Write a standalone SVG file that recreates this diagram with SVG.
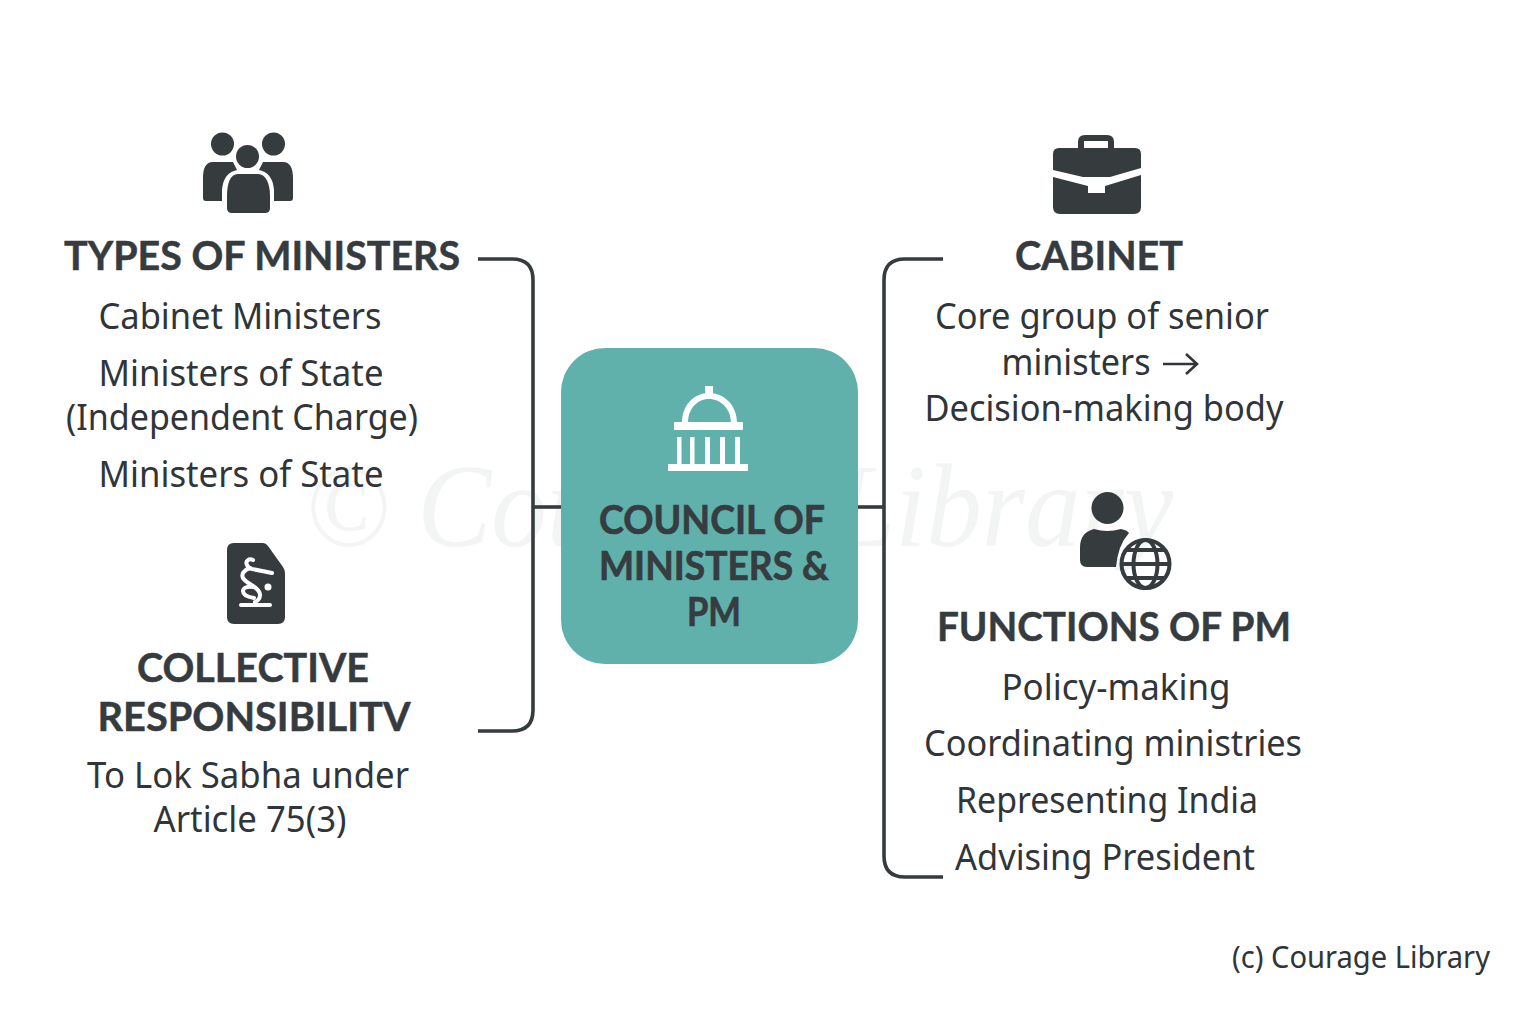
<svg xmlns="http://www.w3.org/2000/svg" width="1536" height="1024" viewBox="0 0 1536 1024">
<style>
.b{font-family:"Noto Sans","Open Sans","Liberation Sans",sans-serif;font-size:36px;fill:#2f3538;text-anchor:middle}
.h{font-family:"Lato","Noto Sans","Liberation Sans",sans-serif;font-weight:700;font-size:41px;fill:#353b3e;stroke:#353b3e;stroke-width:.5;text-anchor:middle}
.c{font-family:"Lato","Noto Sans","Liberation Sans",sans-serif;font-weight:700;font-size:40px;fill:#363c3f;stroke:#363c3f;stroke-width:.7;text-anchor:middle}
.wm{font-family:"Liberation Serif",serif;font-style:italic;font-size:118px;fill:#f3f4f4}
.i{fill:#363b3e}
.ln{fill:none;stroke:#363b3e;stroke-width:3.6;stroke-linecap:butt}
</style>
<rect width="1536" height="1024" fill="#fff"/>
<text id="watermark" class="wm" x="305" y="546" textLength="868" lengthAdjust="spacingAndGlyphs">© Courage Library</text>
<g id="connectors">
<path class="ln" d="M478 259H512Q533 259 533 280V710Q533 731 512 731H478"/>
<path class="ln" d="M533 507H562"/>
<path class="ln" d="M943 259H905Q884 259 884 280V856Q884 877 905 877H943"/>
<path class="ln" d="M857 507H884"/>
</g>
<g id="center">
<rect x="561" y="348" width="297" height="316" rx="44" fill="#60b1ab"/>
<g fill="#fff">
<rect x="705" y="386" width="8" height="12"/>
<path d="M682 423C682 405 694 393 709 393C724 393 737 405 737 423H731C731 409 721 399 709 399C697 399 688 409 688 423Z"/>
<rect x="674" y="422" width="69" height="8" rx="1"/>
<rect x="677" y="437" width="4.500" height="29"/><rect x="690" y="437" width="4.500" height="29"/><rect x="705" y="437" width="5" height="29"/><rect x="720" y="437" width="5" height="29"/><rect x="735" y="437" width="5" height="29"/>
<rect x="668" y="464" width="80" height="7"/>
</g>
<text class="c" x="712" y="534" textLength="226" lengthAdjust="spacingAndGlyphs">COUNCIL OF</text>
<text class="c" x="714" y="580" textLength="230" lengthAdjust="spacingAndGlyphs">MINISTERS &amp;</text>
<text class="c" x="714" y="626" textLength="54" lengthAdjust="spacingAndGlyphs">PM</text>
</g>
<g id="types">
<g class="i">
<circle cx="222.500" cy="144" r="11.500"/><circle cx="273.500" cy="144" r="11.500"/><circle cx="247.500" cy="156.500" r="11.500"/>
<path d="M213 162H233L237 170C228 172 223 178 222 190V201H206Q203 201 203 198V178C203 168 206 162 213 162Z"/>
<path d="M283 162H263L259 170C268 172 273 178 274 190V201H290Q293 201 293 198V178C293 168 290 162 283 162Z"/>
<path d="M238 174H258C266 174 270 184 270 196V208Q270 213 265 213H232Q227 213 227 208V196C227 184 230 174 238 174Z"/>
</g>
<text class="h" x="262" y="270" textLength="396" lengthAdjust="spacingAndGlyphs">TYPES OF MINISTERS</text>
<text class="b" x="240" y="329" textLength="283" lengthAdjust="spacingAndGlyphs">Cabinet Ministers</text>
<text class="b" x="241" y="386" textLength="285" lengthAdjust="spacingAndGlyphs">Ministers of State</text>
<text class="b" x="242" y="430" textLength="352" lengthAdjust="spacingAndGlyphs">(Independent Charge)</text>
<text class="b" x="241" y="487" textLength="285" lengthAdjust="spacingAndGlyphs">Ministers of State</text>
</g>
<g id="responsibility">
<path class="i" d="M234 543H263Q266 543 268 546L283 567Q285 570 285 573V617Q285 624 278 624H234Q227 624 227 617V550Q227 543 234 543Z"/>
<g fill="none" stroke="#fff" stroke-width="4" stroke-linecap="round">
<path d="M253 560C249 558 245 561 247 565Q248 568 252 569L272 573"/>
<path d="M250 568C244 570 241 574 243 578C246 584 260 587 260 595Q260 600 255 602V605"/>
<path d="M253 587C247 586 243 588 243 591C243 595 248 597 254 598"/>
<path d="M241 605H270"/>
</g>
<circle cx="268" cy="587" r="3.500" fill="#fff"/>
<text class="h" x="253" y="682" textLength="232" lengthAdjust="spacingAndGlyphs">COLLECTIVE</text>
<text class="h" x="254" y="731" textLength="313" lengthAdjust="spacingAndGlyphs">RESPONSIBILITV</text>
<text class="b" x="248" y="788" textLength="322" lengthAdjust="spacingAndGlyphs">To Lok Sabha under</text>
<text class="b" x="250" y="832" textLength="193" lengthAdjust="spacingAndGlyphs">Article 75(3)</text>
</g>
<g id="cabinet">
<path class="i" d="M1078 149V142Q1078 135 1085 135H1107Q1114 135 1114 142V149H1108V141H1084V149Z"/>
<path class="i" d="M1059 148H1135Q1141 148 1141 154V168L1110 177H1083L1053 170V154Q1053 148 1059 148Z"/>
<path class="i" d="M1053 177L1088 186V193H1105V186L1141 175V207Q1141 214 1134 214H1060Q1053 214 1053 207Z"/>
<text class="h" x="1099" y="270" textLength="168" lengthAdjust="spacingAndGlyphs">CABINET</text>
<text class="b" x="1102" y="329" textLength="334" lengthAdjust="spacingAndGlyphs">Core group of senior</text>
<text class="b" x="1076" y="375" textLength="149" lengthAdjust="spacingAndGlyphs">ministers</text>
<path d="M1163 364H1196M1186 354L1197 364L1186 374" fill="none" stroke="#2f3538" stroke-width="2.600"/>
<text class="b" x="1104" y="421" textLength="359" lengthAdjust="spacingAndGlyphs">Decision-making body</text>
</g>
<g id="functions">
<circle class="i" cx="1107.500" cy="508" r="16"/>
<path class="i" d="M1094 529Q1107 533 1121 529Q1127 530 1129 533Q1118 545 1116 567H1087Q1080 567 1080 560V548C1080 536 1086 531 1094 529Z"/>
<g fill="none" stroke="#363b3e" stroke-width="4">
<circle cx="1145.500" cy="564" r="24"/>
<ellipse cx="1145.500" cy="564" rx="12" ry="24"/>
<path d="M1125 550H1166M1121.500 564H1169.500M1125 578H1166"/>
</g>
<text class="h" x="1114" y="641" textLength="354" lengthAdjust="spacingAndGlyphs">FUNCTIONS OF PM</text>
<text class="b" x="1116" y="700" textLength="229" lengthAdjust="spacingAndGlyphs">Policy-making</text>
<text class="b" x="1113" y="756" textLength="378" lengthAdjust="spacingAndGlyphs">Coordinating ministries</text>
<text class="b" x="1107" y="813" textLength="302" lengthAdjust="spacingAndGlyphs">Representing India</text>
<text class="b" x="1105" y="870" textLength="300" lengthAdjust="spacingAndGlyphs">Advising President</text>
</g>
<text id="credit" class="b" x="1361" y="968" style="font-size:30px" textLength="258" lengthAdjust="spacingAndGlyphs">(c) Courage Library</text>
</svg>
